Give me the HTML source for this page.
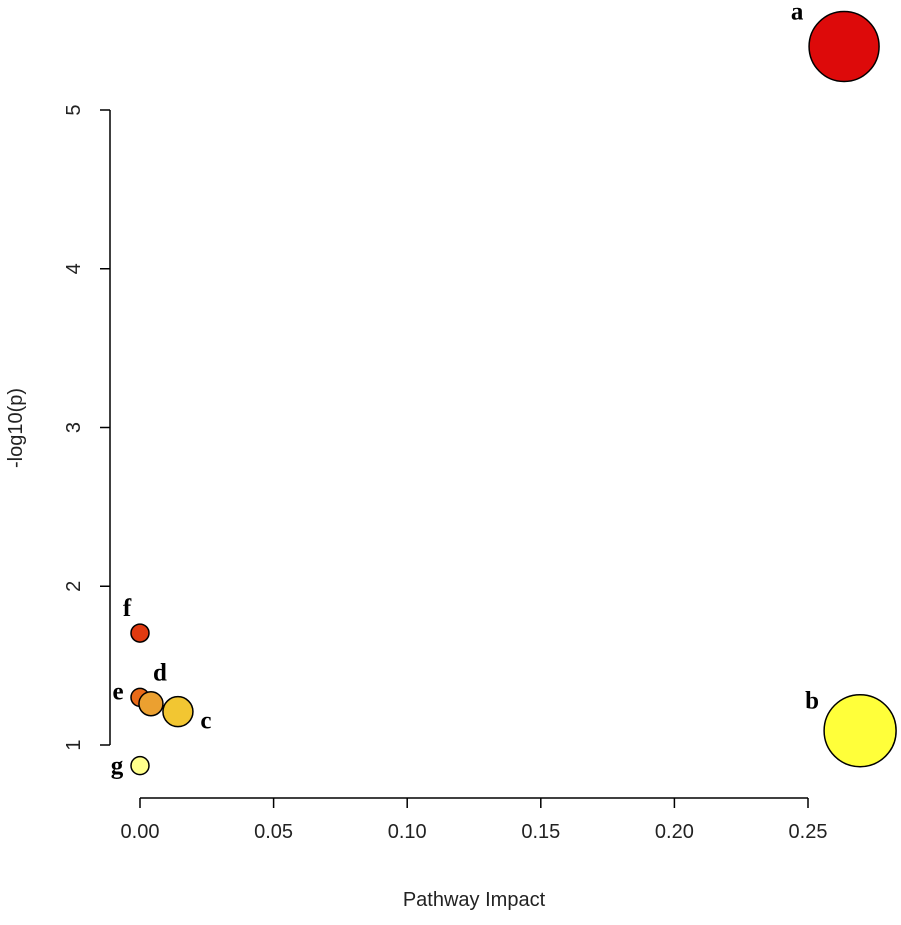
<!DOCTYPE html>
<html><head><meta charset="utf-8"><style>
body{margin:0;background:#fff}
svg text{font-family:"Liberation Sans",sans-serif;fill:#222}
.lbl{font-family:"Liberation Serif",serif;font-weight:bold;font-size:25px;fill:#000}
</style></head><body>
<svg id="chart" width="901" height="920" viewBox="0 0 901 920" xmlns="http://www.w3.org/2000/svg"></svg>
<script>
const names=["a","b","c","d","e","f","g"];
const impact=[0.2635,0.2695,0.0142,0.0041,0.0,0.0,0.0];
const logp=[5.40,1.09,1.21,1.26,1.30,1.705,0.87];
const radius=[35,36,15,12,9,9,9];
const colors=["#dd0a0a","#ffff3a","#f2c632","#eba030","#e86a18","#e03a10","#ffff8c"];
const xTicks=[0,0.05,0.10,0.15,0.20,0.25];
const xTickLabels=["0.00","0.05","0.10","0.15","0.20","0.25"];
const yTicks=[1,2,3,4,5];
const labelOffsets=[[-47,-35],[-48,-30],[28,9],[9,-31],[-22,-6],[-13,-25],[-23,0]];
const X=v=>140+v/0.25*668;
const Y=v=>745-(v-1)*158.75;
const svg=document.getElementById('chart');
const NS="http://www.w3.org/2000/svg";
function mk(t,a,p){const e=document.createElementNS(NS,t);for(const k in a)e.setAttribute(k,a[k]);(p||svg).appendChild(e);return e;}
const xa=mk('g',{});


mk('line',{x1:X(0),x2:X(0.25),y1:798,y2:798,stroke:'#000','stroke-width':1.5},xa);
xTicks.forEach((t,i)=>{mk('line',{x1:X(t),x2:X(t),y1:798,y2:808,stroke:'#000','stroke-width':1.5},xa);
const tx=mk('text',{x:X(t),y:838,'text-anchor':'middle','font-size':20},xa);tx.textContent=xTickLabels[i];

});
const xt=mk('text',{x:474,y:906,'text-anchor':'middle','font-size':20});xt.textContent="Pathway Impact";


const ya=mk('g',{});


mk('line',{x1:110,x2:110,y1:Y(5),y2:Y(1),stroke:'#000','stroke-width':1.5},ya);
yTicks.forEach(t=>{mk('line',{x1:100,x2:110,y1:Y(t),y2:Y(t),stroke:'#000','stroke-width':1.5},ya);
const tx=mk('text',{x:80,y:Y(t),'text-anchor':'middle','font-size':20,transform:`rotate(-90 80 ${Y(t)})`},ya);tx.textContent=t;

});
const yt=mk('text',{x:22,y:428,'text-anchor':'middle','font-size':20,transform:'rotate(-90 22 428)'});yt.textContent="-log10(p)";


for(let i=names.length-1;i>=0;i--){const n=names[i];const cx=X(impact[i]),cy=Y(logp[i]);
const c=mk('circle',{cx:cx,cy:cy,r:radius[i],fill:colors[i],stroke:'#000','stroke-width':1.5});


const t=mk('text',{x:cx+labelOffsets[i][0],y:cy+labelOffsets[i][1]+8,'text-anchor':'middle',class:'lbl'});t.textContent=n;

}
</script>
</body></html>
